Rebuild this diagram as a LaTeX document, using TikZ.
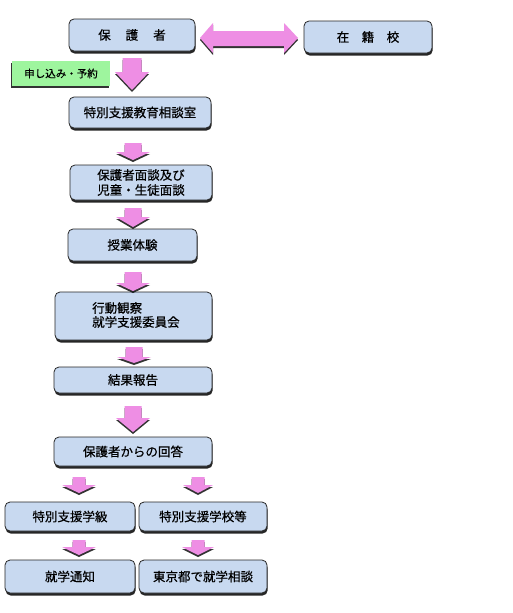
\documentclass[tikz,border=0pt]{standalone}
\usepackage{fontspec}
\newfontfamily\jp{Noto Sans CJK JP}[FakeBold=0.6]
\usetikzlibrary{shadows}
\definecolor{boxblue}{HTML}{C8D9F0}
\definecolor{arrowpink}{HTML}{EE8EE4}
\definecolor{notegreen}{HTML}{9EF59E}
\tikzset{
  box/.style={draw=black!85, line width=0.8pt, fill=boxblue, rounded corners=5pt,
    drop shadow={shadow xshift=0.6pt, shadow yshift=-2.5pt, opacity=0.85, fill=black},
    font=\jp\fontsize{12.5}{15}\selectfont, inner sep=0pt, align=center},
  note/.style={fill=notegreen, drop shadow={shadow xshift=-0.6pt, shadow yshift=-2pt, opacity=0.8, fill=black},
    font=\jp\fontsize{10.5}{12}\selectfont, inner sep=0pt},
  blockarrow/.style={fill=arrowpink, drop shadow={shadow xshift=0pt, shadow yshift=-2pt, opacity=0.8, fill=black}},
}
\newcommand{\dnarrow}[7]{% cx, top, base, tip, shaft hw, head hw, name
  \coordinate (#7) at (#1,#4);
  \fill[blockarrow] (#1-#5,#2) -- (#1+#5,#2) -- (#1+#5,#3) -- (#1+#6,#3) -- (#7) -- (#1-#6,#3) -- (#1-#5,#3) -- cycle;}
\begin{document}
\begin{tikzpicture}[x=1pt,y=-1pt]
\fill[white] (0,0) rectangle (513,613);
\useasboundingbox (0,0) rectangle (513,613);
% boxes
\node[box, minimum width=126pt, minimum height=32pt] (hog) at (132,35) {保\hspace{1.2em}護\hspace{1.2em}者};
\node[box, minimum width=128pt, minimum height=32pt] (zai) at (368,37) {在\hspace{1em}籍\hspace{1em}校};
\node[note, minimum width=98pt, minimum height=25pt] (moushi) at (61,73.5) {申し込み・予約};
\node[box, minimum width=142pt, minimum height=31pt] (soudan) at (140,112.5) {特別支援教育相談室};
\node[box, minimum width=142pt, minimum height=35pt] (mendan) at (141,182.5) {保護者面談及び\\児童・生徒面談};
\node[box, minimum width=129pt, minimum height=32pt] (jugyou) at (132.5,245) {授業体験};
\node[box, minimum width=157pt, minimum height=48pt] (koudou) at (133.5,316) {};
\node[font=\jp\fontsize{12.5}{14}\selectfont, align=left, anchor=west, inner sep=0pt] (koudoutxt) at (92,315) {行動観察\\就学支援委員会};
\node[box, minimum width=158pt, minimum height=26pt] (kekka) at (133,380) {結果報告};
\node[box, minimum width=158pt, minimum height=29pt] (kaitou) at (133,451.5) {保護者からの回答};
\node[box, minimum width=130pt, minimum height=29pt] (gakkyu) at (70,516.5) {特別支援学級};
\node[box, minimum width=128pt, minimum height=29pt] (gakkou) at (203,516.5) {特別支援学校等};
\node[box, minimum width=130pt, minimum height=33pt] (tsuchi) at (70,576.5) {就学通知};
\node[box, minimum width=128pt, minimum height=33pt] (tokyo) at (203,576.5) {東京都で就学相談};
% double arrow between hog and zai
\coordinate (dl) at (200,38);
\coordinate (dr) at (298,38);
\fill[blockarrow] (dl) -- (213,23) -- (213,31) -- (284,31) -- (284,23) -- (dr) -- (284,53) -- (284,46) -- (213,46) -- (213,53) -- cycle;
% down arrows
\dnarrow{132}{58}{72}{90}{9.5}{17}{t1}
\dnarrow{133}{143}{152}{160}{8.5}{17}{t2}
\dnarrow{133}{208}{217}{227}{8.5}{17}{t3}
\dnarrow{133}{272}{283}{291}{8.5}{17}{t4}
\dnarrow{134}{347}{357}{363}{8.5}{17}{t5}
\dnarrow{133}{406}{418}{432}{8.5}{17}{t6}
\dnarrow{79}{477}{485}{493}{6.5}{17}{t7}
\dnarrow{198}{477}{485}{493}{6.5}{15}{t8}
\dnarrow{79}{540}{547}{555}{6.5}{17}{t9}
\dnarrow{198}{540}{547}{555}{6.5}{16}{t10}
\end{tikzpicture}
\end{document}
